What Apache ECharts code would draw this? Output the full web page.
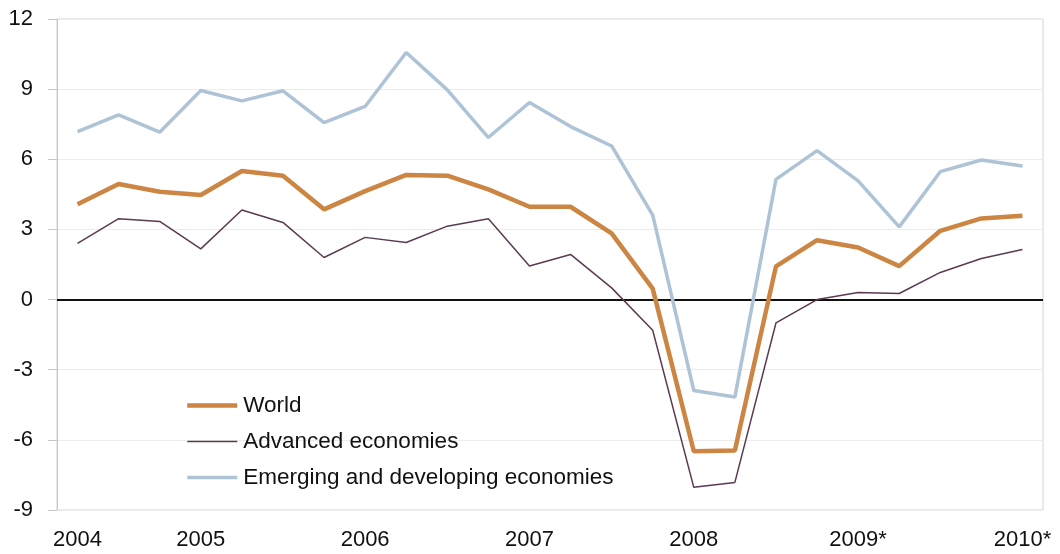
<!DOCTYPE html>
<html>
<head>
<meta charset="utf-8">
<script src="https://cdn.jsdelivr.net/npm/echarts@6/dist/echarts.min.js"></script>
<style>
html,body{margin:0;padding:0;background:#fff;}
#chart{width:1060px;height:554px;}
</style>
</head>
<body>
<div id="chart"></div>
<script>
var quarters = ['2004Q1','2004Q2','2004Q3','2004Q4','2005Q1','2005Q2','2005Q3','2005Q4',
  '2006Q1','2006Q2','2006Q3','2006Q4','2007Q1','2007Q2','2007Q3','2007Q4',
  '2008Q1','2008Q2','2008Q3','2008Q4','2009Q1','2009Q2','2009Q3','2009Q4'];
var tickLabels = ['2004','','','2005','','','','2006','','','','2007','','','','2008','','','','2009*','','','','2010*'];
var world = [4.08, 4.94, 4.61, 4.47, 5.50, 5.30, 3.86, 4.64, 5.33, 5.30, 4.71, 3.97, 3.97, 2.83, 0.47, -6.49, -6.46, 1.42, 2.54, 2.23, 1.43, 2.94, 3.47, 3.58];
var advanced = [2.40, 3.46, 3.34, 2.17, 3.83, 3.30, 1.80, 2.66, 2.44, 3.14, 3.46, 1.44, 1.93, 0.50, -1.31, -8.03, -7.82, -1.00, 0.00, 0.30, 0.26, 1.16, 1.76, 2.14];
var emerging = [7.18, 7.90, 7.16, 8.94, 8.50, 8.93, 7.57, 8.26, 10.57, 8.97, 6.93, 8.43, 7.40, 6.57, 3.61, -3.89, -4.17, 5.14, 6.37, 5.08, 3.11, 5.47, 5.97, 5.71];
var seriesNames = ['World', 'Advanced economies', 'Emerging and developing economies'];

var C_WORLD = '#cc8542', C_ADV = '#5b3a52', C_EM = '#aec3d6';
var FONT = "'Liberation Sans', Arial, sans-serif";
var chart = echarts.init(document.getElementById('chart'), null, {renderer: 'canvas'});
chart.setOption({
  animation: false,
  backgroundColor: '#ffffff',
  grid: {left: 57, right: 17, top: 19, bottom: 44, show: true, borderColor: '#d2d2d2', borderWidth: 1, containLabel: false},
  legend: {
    orient: 'vertical', left: 180, top: 389,
    data: [
      {name: seriesNames[0], itemStyle: {opacity: 0}, lineStyle: {width: 4.5, color: C_WORLD}},
      {name: seriesNames[1], itemStyle: {opacity: 0}, lineStyle: {width: 1.5, color: C_ADV}},
      {name: seriesNames[2], itemStyle: {opacity: 0}, lineStyle: {width: 3.5, color: C_EM}}
    ],
    itemWidth: 50, itemHeight: 14, itemGap: 13,
    textStyle: {fontFamily: FONT, fontSize: 22.5, color: '#111', padding: [0,0,0,1]}
  },
  xAxis: {
    type: 'category', data: quarters, boundaryGap: true,
    axisLine: {show: true, lineStyle: {color: '#c8c8c8', width: 1}},
    axisTick: {show: false},
    splitLine: {show: false},
    axisLabel: {interval: 0, margin: 19, fontFamily: FONT, fontSize: 22, color: '#111',
      formatter: function (v, i) { return tickLabels[i]; }}
  },
  yAxis: {
    type: 'value', min: -9, max: 12, interval: 3,
    axisLine: {show: true, lineStyle: {color: '#c8c8c8', width: 1}},
    axisTick: {show: true, length: 9, lineStyle: {color: '#c8c8c8'}},
    splitLine: {show: true, lineStyle: {color: '#ececec', width: 1}},
    axisLabel: {margin: 24, fontFamily: FONT, fontSize: 22, color: '#111'}
  },
  series: [
    {name: seriesNames[2], type: 'line', data: emerging, symbol: 'none', z: 2,
      lineStyle: {color: C_EM, width: 3.5}, itemStyle: {color: C_EM}},
    {name: seriesNames[1], type: 'line', data: advanced, symbol: 'none', z: 3,
      lineStyle: {color: C_ADV, width: 1.5}, itemStyle: {color: C_ADV},
      markLine: {silent: true, symbol: 'none', label: {show: false}, z: 1,
        lineStyle: {color: '#111', width: 2.2, type: 'solid'}, data: [{yAxis: 0}]}},
    {name: seriesNames[0], type: 'line', data: world, symbol: 'none', z: 4,
      lineStyle: {color: C_WORLD, width: 4.5}, itemStyle: {color: C_WORLD}}
  ]
});
</script>
</body>
</html>
